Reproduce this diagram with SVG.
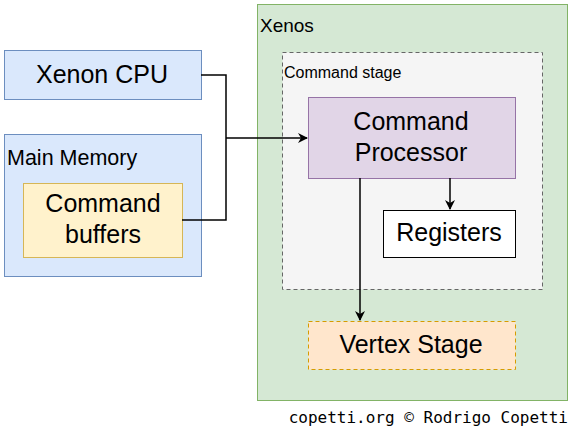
<svg xmlns="http://www.w3.org/2000/svg" width="573" height="433" viewBox="0 0 573 433">
<defs>
<style>
text{font-family:"Liberation Sans",Arial,sans-serif;fill:#000}
.big{font-size:25px;text-anchor:middle}
.blue{fill:#dae8fc;stroke:#6c8ebf}
.yellow{fill:#fff2cc;stroke:#d6b656}
.green{fill:#d5e8d4;stroke:#82b366}
.gray{fill:#f5f5f5;stroke:#666666;stroke-dasharray:4 3}
.purple{fill:#e1d5e7;stroke:#9673a6}
.orange{fill:#ffe6cc;stroke:#d79b00;stroke-dasharray:4 3}
.white{fill:#ffffff;stroke:#000000}
.conn{fill:none;stroke:#000;stroke-width:1.5}
</style>
<marker id="arr" markerWidth="10" markerHeight="10" refX="9" refY="5" orient="auto" markerUnits="userSpaceOnUse">
<path d="M0,0 L10,5 L0,10 L3,5 Z" fill="#000"/>
</marker>
</defs>
<rect width="573" height="433" fill="#fff"/>
<g id="xenos"><rect class="green" x="257.5" y="4.5" width="310" height="396"/><text x="260" y="32" font-size="19">Xenos</text></g>
<g id="command-stage"><rect class="gray" x="282.5" y="52.5" width="260" height="237"/><text x="284" y="78" font-size="16" fill="#333">Command stage</text></g>
<g id="xenon-cpu"><rect class="blue" x="4.5" y="50.5" width="197" height="49"/><text class="big" x="102" y="83">Xenon CPU</text></g>
<g id="main-memory"><rect class="blue" x="4.5" y="134.5" width="197" height="142"/><text x="7" y="165" font-size="21.5">Main Memory</text></g>
<g id="command-buffers"><rect class="yellow" x="23.5" y="183.5" width="159" height="74"/><text class="big" x="103" y="212">Command</text><text class="big" x="103" y="243">buffers</text></g>
<g id="command-processor"><rect class="purple" x="308.5" y="97.5" width="207" height="81"/><text class="big" x="411" y="130">Command</text><text class="big" x="411" y="161">Processor</text></g>
<g id="registers"><rect class="white" x="383.5" y="210.5" width="132" height="47"/><text class="big" x="449" y="241">Registers</text></g>
<g id="vertex-stage"><rect class="orange" x="308.5" y="321.5" width="207" height="48"/><text class="big" x="411" y="353">Vertex Stage</text></g>
<g id="connectors">
<path class="conn" d="M201,75 H226 V220 H182"/>
<path class="conn" d="M226,138 H307" marker-end="url(#arr)"/>
<path class="conn" d="M450,178 V209" marker-end="url(#arr)"/>
<path class="conn" d="M360,178 V320" marker-end="url(#arr)"/>
</g>
<text x="568" y="423" font-size="16" text-anchor="end" style="font-family:'DejaVu Sans Mono','Liberation Mono',monospace">copetti.org © Rodrigo Copetti</text>
</svg>
